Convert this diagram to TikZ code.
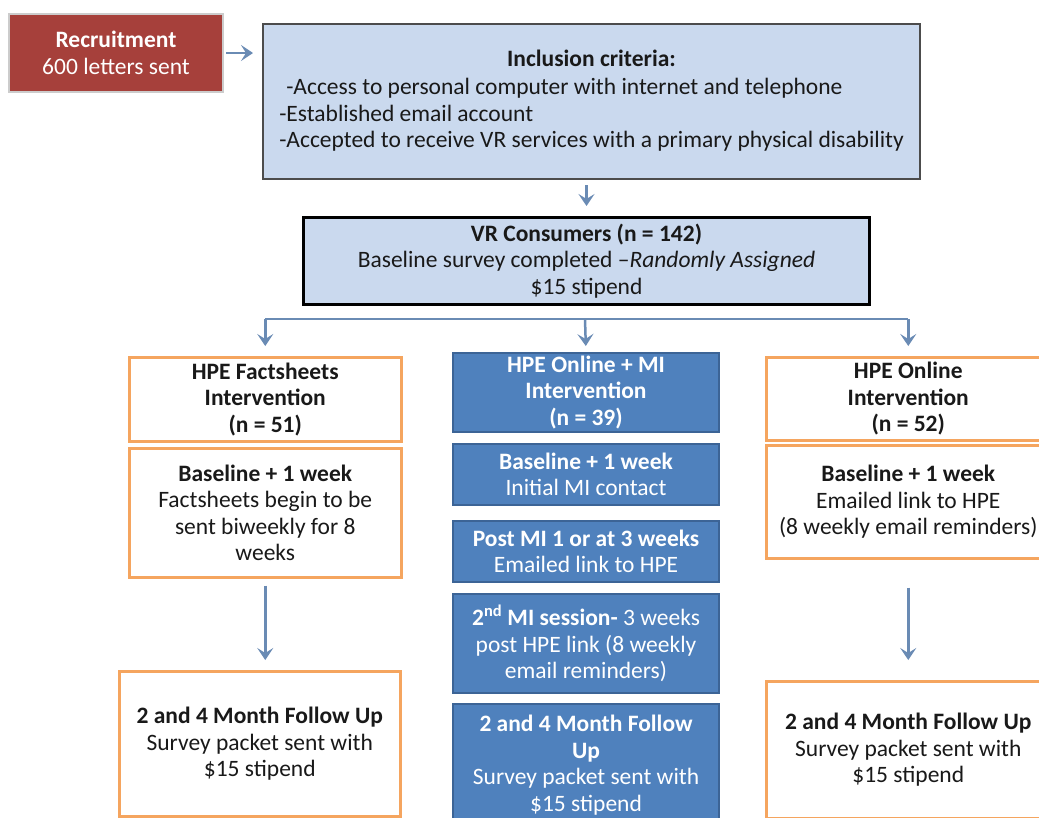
\documentclass[tikz,border=0pt]{standalone}
\usepackage{fontspec}
\setmainfont{Carlito}
\usetikzlibrary{arrows.meta,positioning}
\definecolor{recruitRed}{RGB}{166,64,59}
\definecolor{paleBlue}{RGB}{202,217,238}
\definecolor{boxOrange}{RGB}{245,165,95}
\definecolor{miBlue}{RGB}{79,129,189}
\definecolor{miEdge}{RGB}{60,100,150}
\definecolor{arrowBlue}{RGB}{106,139,180}

\tikzset{
  basebox/.style={rectangle, anchor=north west, align=center, inner sep=0pt,
    font=\fontsize{23.5}{26.5}\selectfont},
  recruitbox/.style={basebox, fill=recruitRed, draw=black!20, line width=2pt, text=white},
  criteriabox/.style={basebox, fill=paleBlue, draw=black!70, line width=2pt, text=black!90},
  groupbox/.style={basebox, fill=white, draw=boxOrange, line width=2.5pt, text=black!90},
  mibox/.style={basebox, fill=miBlue, draw=miEdge, line width=2pt, text=white},
  connector/.style={draw=arrowBlue, line width=2.5pt},
  flowarrow/.style={connector, -{Stealth[length=12pt,width=16pt,inset=5pt]}},
}

\begin{document}
\begin{tikzpicture}[x=1pt,y=-1pt]
            \clip (0,0) rectangle (1039,817);

            % top
            \node[recruitbox, minimum width=214pt, minimum height=78pt] (recruit) at (8,13)
                {\textbf{Recruitment}\\600 letters sent};
            \node[criteriabox, minimum width=657pt, minimum height=155pt] (criteria) at (262,23)
                {\begin{tabular}{@{}l@{}}
                 \multicolumn{1}{c}{\textbf{Inclusion criteria:}}\\[2pt]
                 \hspace{7pt}-Access to personal computer with internet and telephone\\
                 -Established email account\\
                 -Accepted to receive VR services with a primary physical disability
                 \end{tabular}\rule[-6pt]{0pt}{0pt}};
            \node[criteriabox, draw=black, line width=3pt, minimum width=566pt, minimum height=87pt] (vr) at (302,216)
                {\textbf{VR Consumers (n = 142)}\\
                 Baseline survey completed –\textit{Randomly Assigned}\\
                 \$15 stipend};
            \coordinate (split) at (585,319);

            % factsheets
            \node[groupbox, minimum width=272pt, minimum height=84pt] (fsgroup) at (128,356)
                {\textbf{HPE Factsheets}\\\textbf{Intervention}\\\textbf{(n = 51)}};
            \node[groupbox, minimum width=272pt, minimum height=129pt] (fsweek) at (128,447)
                {\textbf{Baseline + 1 week}\\Factsheets begin to be\\sent biweekly for 8\\weeks};
            \node[groupbox, minimum width=281pt, minimum height=145pt] (fsfollow) at (118,670)
                {\textbf{2 and 4 Month Follow Up}\\Survey packet sent with\\\$15 stipend};

            % online + MI
            \node[mibox, minimum width=266pt, minimum height=79pt] (migroup) at (452,352)
                {\textbf{HPE Online + MI}\\\textbf{Intervention}\\\textbf{(n = 39)}};
            \node[mibox, minimum width=266pt, minimum height=61pt] (miweek) at (452,443)
                {\textbf{Baseline + 1 week}\\Initial MI contact};
            \node[mibox, minimum width=266pt, minimum height=61pt] (milink) at (452,520)
                {\textbf{Post MI 1 or at 3 weeks}\\Emailed link to HPE};
            \node[mibox, minimum width=266pt, minimum height=99pt] (misession) at (452,593)
                {\textbf{2\textsuperscript{nd} MI session-} 3 weeks\\post HPE link (8 weekly\\email reminders)};
            \node[mibox, minimum width=266pt, minimum height=122pt] (mifollow) at (452,703)
                {\textbf{2 and 4 Month Follow}\\\textbf{Up}\\Survey packet sent with\\\$15 stipend};

            % online
            \node[groupbox, minimum width=284pt, minimum height=83pt] (olgroup) at (765,356)
                {\textbf{HPE Online}\\\textbf{Intervention}\\\textbf{(n = 52)}};
            \node[groupbox, minimum width=284pt, minimum height=113pt] (olweek) at (765,444)
                {\textbf{Baseline + 1 week}\\Emailed link to HPE\\(8 weekly email reminders)};
            \node[groupbox, minimum width=284pt, minimum height=137pt] (olfollow) at (765,680)
                {\textbf{2 and 4 Month Follow Up}\\Survey packet sent with\\\$15 stipend};

            % arrows
            \draw[flowarrow, shorten <=2pt, shorten >=9pt] (recruit.east) -- (recruit.east -| criteria.west);
            \draw[flowarrow, shorten <=5pt, shorten >=10pt] (criteria.south -| vr.north) -- (vr.north);
            \draw[connector] (split -| fsgroup.north) -- (split -| olgroup.north);
            \draw[flowarrow, shorten >=10pt] (split -| fsgroup.north) -- (fsgroup.north);
            \draw[flowarrow, shorten >=6pt] (split) -- (migroup.north);
            \draw[flowarrow, shorten >=10pt] (split -| olgroup.north) -- (olgroup.north);
            \draw[flowarrow, shorten <=7pt, shorten >=10pt] (fsweek.south) -- (fsweek.south |- fsfollow.north);
            \draw[flowarrow, shorten <=28pt, shorten >=20pt] (olweek.south) -- (olweek.south |- olfollow.north);

\end{tikzpicture}
\end{document}
